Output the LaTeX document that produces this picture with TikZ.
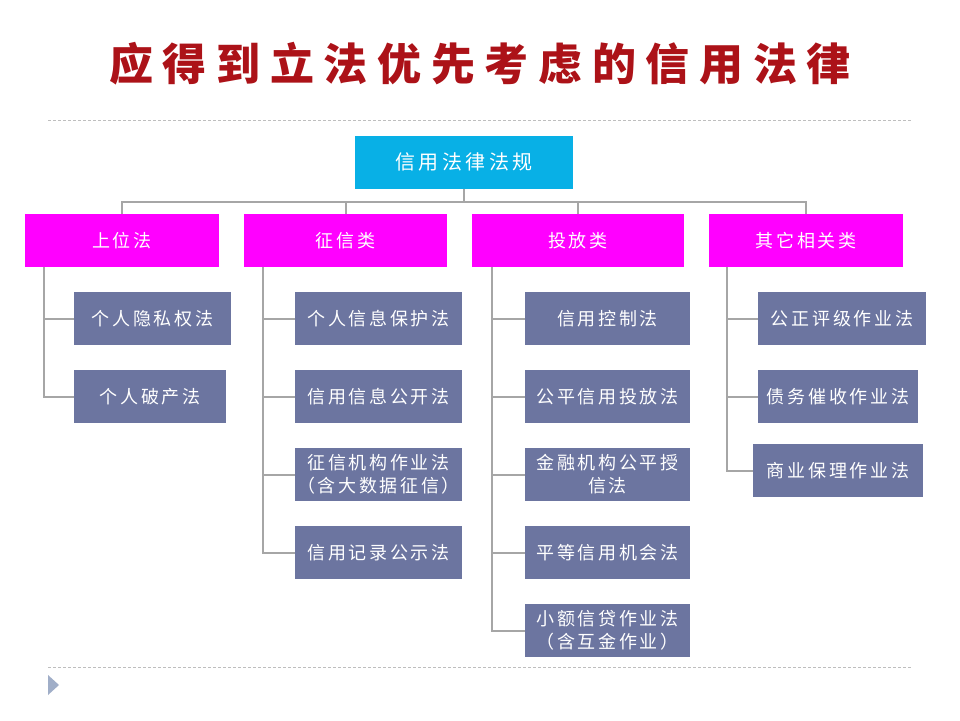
\documentclass[tikz,border=0pt]{standalone}
\usepackage{fontspec}
\newfontfamily\cjk[LetterSpace=15]{Noto Sans CJK SC}
\newfontfamily\cjkroot[LetterSpace=18]{Noto Sans CJK SC}
\newfontfamily\cjktitle[LetterSpace=22]{Noto Sans CJK SC}
\definecolor{rootc}{RGB}{8,176,230}
\definecolor{pinkc}{RGB}{255,0,255}
\definecolor{grayc}{RGB}{108,117,160}
\definecolor{linec}{RGB}{166,166,166}
\definecolor{dashc}{RGB}{190,190,190}
\definecolor{titlec}{RGB}{172,18,24}
\definecolor{tric}{RGB}{160,174,200}
\begin{document}
\begin{tikzpicture}[x=1pt,y=-1pt,
  box/.style={rectangle,inner sep=1pt,text=white,align=center,font=\cjk\fontsize{18}{23}\selectfont},
  rootbox/.style={box,fill=rootc,minimum width=218pt,minimum height=53pt,font=\cjkroot\fontsize{20}{24}\selectfont},
  catbox/.style={box,fill=pinkc,minimum height=53pt},
  lawbox/.style={box,fill=grayc,minimum height=53pt},
  conn/.style={draw=linec,line width=2pt},
  sep/.style={draw=dashc,line width=0.8pt,dash pattern=on 3pt off 2pt}]
\useasboundingbox (0,0) rectangle (960,720);
\fill[white] (0,0) rectangle (960,720);
% title
\node[text=titlec,font=\cjktitle\bfseries\fontsize{44}{50}\selectfont] (title) at (480,64) {应得到立法优先考虑的信用法律};
% separators
\coordinate (s1a) at (48,120); \coordinate (s1b) at (912,120);
\coordinate (s2a) at (48,667); \coordinate (s2b) at (912,667);
\draw[sep] (s1a) -- (s1b);
\draw[sep] (s2a) -- (s2b);
\fill[tric] (48,675) -- (59,685) -- (48,695) -- cycle;
% root
\node[rootbox] (root) at (464,162) {信用法律法规};
% categories
\node[catbox,minimum width=194pt] (p1) at (122,240.5) {上位法};
\node[catbox,minimum width=203pt] (p2) at (345.5,240.5) {征信类};
\node[catbox,minimum width=212pt] (p3) at (578,240.5) {投放类};
\node[catbox,minimum width=194pt] (p4) at (806,240.5) {其它相关类};
\coordinate (bus) at (0,202);
\draw[conn] (root.south) -- (root.south |- bus);
\draw[conn] (p1.north) -- (p1.north |- bus) -- (p4.north |- bus) -- (p4.north);
\draw[conn] (p2.north) -- (p2.north |- bus);
\draw[conn] (p3.north) -- (p3.north |- bus);
% column 1
\node[lawbox,minimum width=157pt] (a1) at (152.5,318.5) {个人隐私权法};
\node[lawbox,minimum width=152pt] (a2) at (150,396.5) {个人破产法};
\coordinate (t1) at (44,267);
\draw[conn] (p1.south -| t1) |- (a2.west);
\draw[conn] (a1.west -| t1) -- (a1.west);
% column 2
\node[lawbox,minimum width=167pt] (b1) at (378.5,318.5) {个人信息保护法};
\node[lawbox,minimum width=167pt] (b2) at (378.5,396.5) {信用信息公开法};
\node[lawbox,minimum width=167pt] (b3) at (378.5,474.5) {征信机构作业法\\（含大数据征信）};
\node[lawbox,minimum width=167pt] (b4) at (378.5,552.5) {信用记录公示法};
\coordinate (t2) at (263,267);
\draw[conn] (p2.south -| t2) |- (b4.west);
\draw[conn] (b1.west -| t2) -- (b1.west);
\draw[conn] (b2.west -| t2) -- (b2.west);
\draw[conn] (b3.west -| t2) -- (b3.west);
% column 3
\node[lawbox,minimum width=165pt] (c1) at (607.5,318.5) {信用控制法};
\node[lawbox,minimum width=165pt] (c2) at (607.5,396.5) {公平信用投放法};
\node[lawbox,minimum width=165pt] (c3) at (607.5,474.5) {金融机构公平授\\信法};
\node[lawbox,minimum width=165pt] (c4) at (607.5,552.5) {平等信用机会法};
\node[lawbox,minimum width=165pt] (c5) at (607.5,630.5) {小额信贷作业法\\（含互金作业）};
\coordinate (t3) at (492,267);
\draw[conn] (p3.south -| t3) |- (c5.west);
\draw[conn] (c1.west -| t3) -- (c1.west);
\draw[conn] (c2.west -| t3) -- (c2.west);
\draw[conn] (c3.west -| t3) -- (c3.west);
\draw[conn] (c4.west -| t3) -- (c4.west);
% column 4
\node[lawbox,minimum width=168pt] (d1) at (842,318.5) {公正评级作业法};
\node[lawbox,minimum width=160pt] (d2) at (838,396.5) {债务催收作业法};
\node[lawbox,minimum width=170pt] (d3) at (838,470.5) {商业保理作业法};
\coordinate (t4) at (727,267);
\draw[conn] (p4.south -| t4) |- (d3.west);
\draw[conn] (d1.west -| t4) -- (d1.west);
\draw[conn] (d2.west -| t4) -- (d2.west);
\end{tikzpicture}
\end{document}
